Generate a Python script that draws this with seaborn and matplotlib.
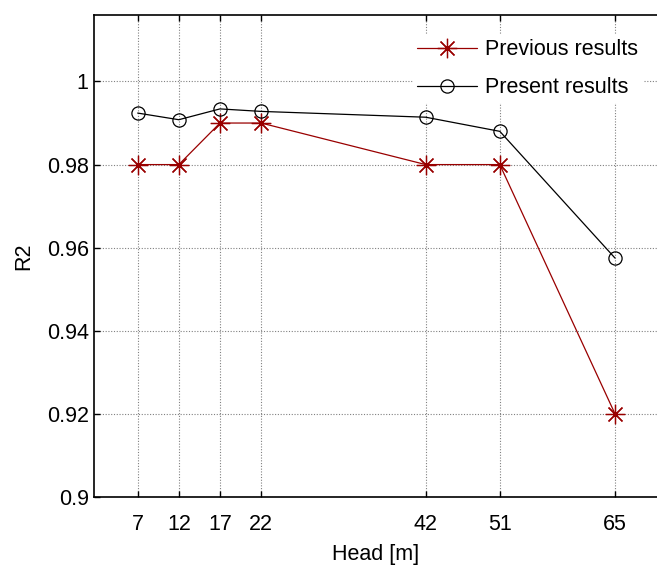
import matplotlib
matplotlib.use("Agg")
import matplotlib.pyplot as plt
import seaborn as sns
import pandas as pd

heads = [7, 12, 17, 22, 42, 51, 65]
previous_results = [0.98, 0.98, 0.99, 0.99, 0.98, 0.98, 0.92]
present_results = [0.9924, 0.9908, 0.9934, 0.9928, 0.9914, 0.9880, 0.9575]
y_ticks = [0.9, 0.92, 0.94, 0.96, 0.98, 1.0]
y_tick_labels = ["0.9", "0.92", "0.94", "0.96", "0.98", "1"]

sns.set_style("white")
plt.rcParams['font.family'] = ['Liberation Sans', 'DejaVu Sans']
plt.rcParams['text.color'] = 'black'
plt.rcParams['axes.labelcolor'] = 'black'
plt.rcParams['xtick.color'] = 'black'
plt.rcParams['ytick.color'] = 'black'

fig = plt.figure(figsize=(6.57, 5.67), dpi=100)
ax = fig.add_axes([94.3 / 657, 70 / 567, 1 - 94.3 / 657, (497 - 15) / 567])

df_prev = pd.DataFrame({"Head": heads, "R2": previous_results})
df_pres = pd.DataFrame({"Head": heads, "R2": present_results})

ax.grid(True, color="#808080", linestyle=(0, (1, 1.5)), linewidth=0.8, zorder=0)

sns.lineplot(data=df_prev, x="Head", y="R2", ax=ax, color="#990000",
             marker=(8, 2, 0), markersize=14, markeredgewidth=0.9,
             markeredgecolor="#990000", linewidth=0.9, label="Previous results",
             zorder=3)
sns.lineplot(data=df_pres, x="Head", y="R2", ax=ax, color="black",
             marker="o", markersize=9.5, markerfacecolor="none",
             markeredgecolor="black", markeredgewidth=0.9, linewidth=0.9,
             label="Present results", zorder=3)

ax.set_xlim(1.73, 70.1)
ax.set_ylim(0.9, 1.016)
ax.set_xticks(heads)
ax.set_xticklabels([str(h) for h in heads])
ax.set_yticks(y_ticks)
ax.set_yticklabels(y_tick_labels)

ax.tick_params(axis="both", direction="in", length=4, width=1, labelsize=15.5,
               top=True, bottom=True, left=True, right=False,
               colors="black", labelcolor="black")
ax.tick_params(axis="x", pad=12)
ax.tick_params(axis="y", pad=4)

for s in ["left", "bottom", "top"]:
    ax.spines[s].set_color("black")
    ax.spines[s].set_linewidth(1.2)
ax.spines["right"].set_visible(False)

ax.set_xlabel("Head [m]", fontsize=15.5, labelpad=7, color="black")
ax.set_ylabel("R2", fontsize=15.5, labelpad=9, color="black")

leg = ax.legend(loc="upper right", bbox_to_anchor=(642 / 657, 1 - 35 / 567),
                bbox_transform=fig.transFigure, fontsize=15.5, frameon=True,
                handlelength=2.8, labelspacing=0.78, handletextpad=0.35,
                borderpad=0.2, borderaxespad=0)
leg.get_frame().set_facecolor("white")
leg.get_frame().set_edgecolor("white")
leg.get_frame().set_alpha(1)
for t in leg.get_texts():
    t.set_color("black")

fig.savefig("out.png", dpi=100)
